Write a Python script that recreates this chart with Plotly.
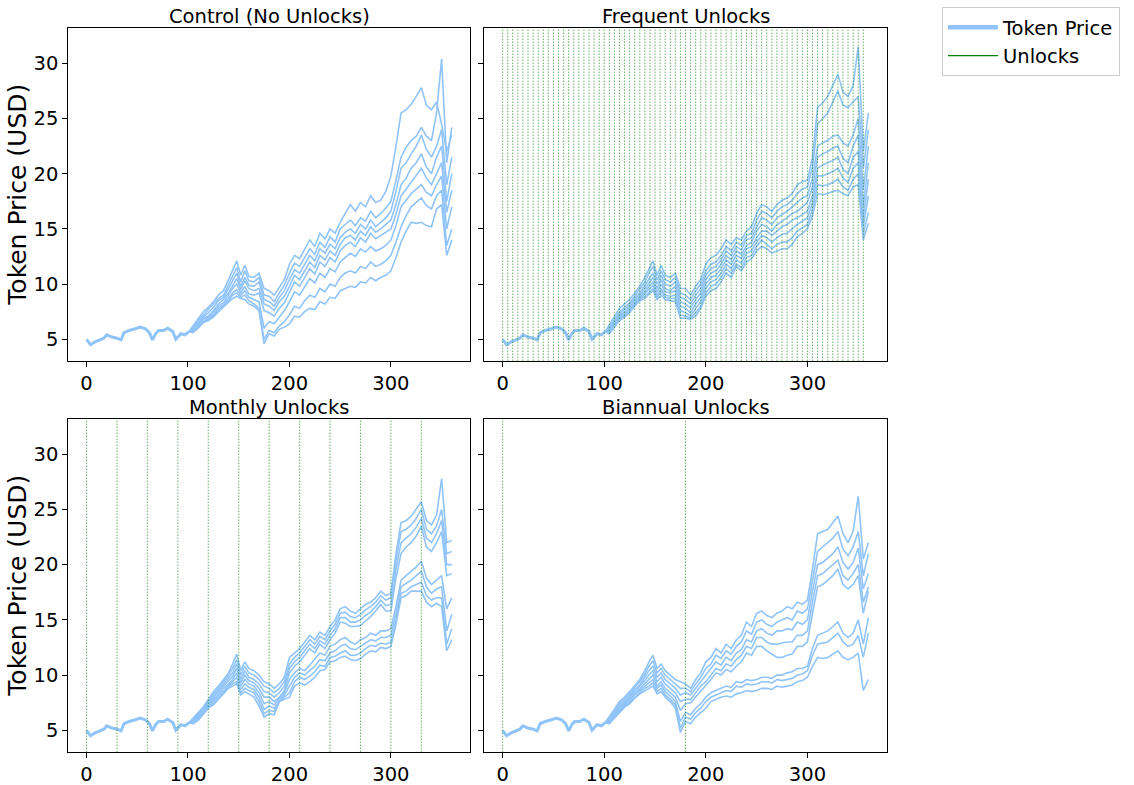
import plotly.graph_objects as go
from plotly.subplots import make_subplots

# opening stretch is the same in every panel (days 0-101)
common_days = [0, 4, 8, 12, 17, 20, 25, 30, 34, 37, 42, 48, 53, 58, 62, 65, 68, 71, 76, 80, 85, 88, 93, 97, 101]
common_price = [5.0, 4.5, 4.75, 4.9, 5.1, 5.4, 5.2, 5.1, 4.95, 5.6, 5.8, 5.95, 6.1, 5.95, 5.6,
                4.95, 5.5, 5.8, 5.8, 6.0, 5.7, 5.0, 5.5, 5.4, 5.7]

late_days = [105, 110, 115, 120, 125, 130, 135, 140, 144, 148, 152, 156, 160, 165, 170, 175,
             180, 185, 190, 195, 200, 205, 210, 215, 220, 225, 230, 235, 240, 245, 250, 255,
             260, 265, 270, 275, 280, 285, 290, 295, 300, 305, 310, 315, 320, 325, 330, 335,
             340, 345, 350, 355, 360]

control_paths = [
    [6.2, 6.9, 7.5, 7.9, 8.4, 9.0, 9.4, 10.4, 11.2, 12.1, 10.8, 11.7, 10.7, 10.6, 11.0, 9.6,
     9.4, 9.0, 9.7, 10.4, 11.8, 12.6, 12.3, 13.2, 14.0, 13.4, 14.6, 14.1, 15.0, 14.6, 15.6, 16.4,
     17.2, 16.6, 17.4, 17.0, 18.0, 17.4, 17.6, 18.4, 19.8, 22.5, 25.5, 25.8, 26.3, 27.0, 27.8, 26.2,
     25.8, 26.5, 24.5, 22.0, 23.5],
    [6.0, 6.7, 7.2, 7.7, 8.2, 8.7, 9.0, 10.0, 10.8, 11.5, 10.2, 11.2, 10.3, 10.2, 10.6, 9.0,
     8.9, 8.4, 9.2, 9.9, 11.0, 11.9, 11.6, 12.4, 13.2, 12.7, 13.8, 13.3, 14.3, 13.8, 15.0, 15.4,
     15.8, 15.3, 16.0, 15.7, 16.6, 16.0, 16.4, 16.9, 17.5, 19.4, 21.5, 22.4, 23.0, 23.4, 24.2, 23.4,
     23.0, 25.5, 30.4, 21.0, 24.2],
    [5.9, 6.5, 7.0, 7.4, 7.9, 8.5, 8.8, 9.6, 10.3, 11.0, 9.8, 10.6, 9.9, 9.8, 10.2, 8.6,
     8.4, 8.0, 8.8, 9.4, 10.4, 11.3, 11.0, 11.8, 12.6, 12.1, 13.2, 12.8, 13.6, 13.2, 14.2, 14.7,
     15.0, 14.6, 15.4, 15.0, 15.8, 15.2, 15.6, 16.0, 16.6, 18.4, 20.5, 21.0, 21.8, 22.5, 23.5, 22.2,
     21.5, 22.5, 24.0, 19.0, 21.5],
    [5.8, 6.3, 6.9, 7.1, 7.6, 8.2, 8.6, 9.2, 9.9, 10.5, 9.5, 10.3, 9.6, 9.4, 9.6, 8.2,
     8.0, 7.6, 8.4, 8.9, 9.8, 10.8, 10.4, 11.2, 12.0, 11.5, 12.6, 12.2, 13.0, 12.6, 13.6, 14.2,
     14.4, 14.0, 14.8, 14.4, 15.2, 14.7, 15.0, 15.4, 15.8, 17.2, 19.0, 19.6, 20.5, 21.0, 21.8, 20.6,
     20.0, 21.5, 22.5, 17.5, 20.0],
    [5.8, 6.3, 6.8, 7.0, 7.4, 8.0, 8.3, 9.0, 9.6, 10.0, 9.2, 9.8, 9.1, 9.0, 9.2, 7.6,
     7.4, 7.1, 7.8, 8.3, 9.2, 10.2, 9.8, 10.6, 11.4, 10.9, 12.0, 11.6, 12.4, 12.0, 13.0, 13.5,
     13.8, 13.4, 14.2, 13.8, 14.6, 14.1, 14.4, 14.7, 15.0, 16.3, 18.0, 18.6, 19.2, 19.8, 20.5, 19.6,
     19.0, 20.0, 21.0, 16.5, 18.5],
    [5.7, 6.2, 6.6, 6.9, 7.2, 7.8, 8.1, 8.7, 9.2, 9.5, 9.0, 9.4, 8.8, 8.6, 8.4, 6.0,
     6.6, 6.4, 7.0, 7.6, 8.4, 9.3, 9.0, 9.8, 10.5, 10.1, 11.0, 10.6, 11.4, 11.1, 12.0, 12.4,
     12.8, 12.5, 13.2, 12.9, 13.4, 13.0, 13.2, 13.5, 14.0, 15.3, 17.0, 17.6, 18.2, 18.6, 19.0, 18.3,
     18.0, 19.0, 19.8, 15.0, 17.0],
    [5.7, 6.1, 6.6, 6.8, 7.1, 7.6, 8.0, 8.5, 9.0, 9.2, 8.8, 9.0, 8.5, 8.2, 7.8, 5.0,
     5.8, 5.6, 6.2, 6.6, 7.2, 8.0, 7.8, 8.5, 9.0, 8.8, 9.6, 9.3, 10.0, 9.8, 10.6, 11.0,
     11.2, 11.0, 11.6, 11.4, 12.0, 11.6, 11.8, 12.1, 12.6, 13.8, 15.2, 16.2, 17.0, 17.4, 17.8, 17.1,
     16.8, 18.0, 18.5, 13.5, 15.0],
    [5.6, 6.0, 6.5, 6.7, 7.0, 7.5, 7.9, 8.3, 8.7, 8.9, 8.7, 8.6, 8.2, 8.0, 7.6, 4.6,
     5.5, 5.3, 5.9, 6.1, 6.4, 7.1, 7.0, 7.5, 7.8, 7.7, 8.4, 8.2, 8.8, 8.7, 9.4, 9.6,
     9.8, 9.7, 10.2, 10.1, 10.6, 10.3, 10.6, 10.8, 11.2, 12.4, 13.8, 14.8, 15.6, 15.5, 15.6, 15.3,
     15.2, 16.8, 17.2, 12.6, 14.0],
]

frequent_paths = [
    [6.3, 7.0, 7.8, 8.2, 8.6, 9.2, 9.8, 10.6, 11.4, 12.1, 10.8, 11.7, 10.8, 10.6, 11.0, 9.6,
     9.6, 9.0, 9.8, 10.4, 11.8, 12.4, 12.6, 13.2, 14.0, 13.6, 14.2, 14.0, 14.8, 15.2, 16.4, 17.2,
     17.0, 16.6, 17.2, 17.6, 17.8, 18.2, 19.0, 19.3, 19.4, 21.5, 26.0, 26.4, 27.0, 28.0, 29.0, 27.4,
     27.0, 28.0, 31.5, 22.0, 25.5],
    [6.1, 6.8, 7.5, 7.9, 8.3, 8.9, 9.5, 10.2, 11.0, 11.6, 10.4, 11.2, 10.4, 10.2, 10.6, 9.2,
     9.0, 8.6, 9.4, 10.0, 11.2, 11.8, 12.0, 12.6, 13.4, 13.0, 13.8, 13.5, 14.4, 14.6, 15.8, 16.6,
     16.4, 16.0, 16.6, 17.0, 17.2, 17.6, 18.2, 18.6, 18.8, 20.6, 24.5, 25.0, 25.5, 26.5, 27.5, 26.2,
     26.0, 26.5, 27.0, 20.5, 24.0],
    [6.0, 6.6, 7.3, 7.7, 8.1, 8.7, 9.2, 9.9, 10.5, 11.0, 10.0, 10.8, 10.0, 9.8, 10.2, 8.8,
     8.6, 8.2, 9.0, 9.6, 10.8, 11.4, 11.6, 12.2, 13.0, 12.6, 13.4, 13.1, 14.0, 14.2, 15.2, 16.0,
     15.8, 15.4, 16.0, 16.3, 16.6, 17.0, 17.4, 17.8, 18.0, 19.6, 22.5, 22.8, 23.0, 23.4, 23.5, 22.8,
     22.5, 23.5, 25.0, 18.5, 22.5],
    [5.9, 6.5, 7.1, 7.5, 7.9, 8.5, 9.0, 9.6, 10.1, 10.6, 9.6, 10.4, 9.6, 9.4, 9.8, 8.4,
     8.2, 7.8, 8.6, 9.2, 10.4, 11.0, 11.2, 11.8, 12.6, 12.2, 13.0, 12.7, 13.5, 13.8, 14.8, 15.4,
     15.2, 14.8, 15.4, 15.7, 16.0, 16.4, 16.6, 17.0, 17.4, 18.8, 21.5, 21.8, 22.0, 22.3, 22.5, 21.4,
     21.0, 22.5, 23.5, 17.0, 21.0],
    [5.8, 6.4, 7.0, 7.3, 7.7, 8.3, 8.8, 9.3, 9.8, 10.2, 9.3, 10.0, 9.3, 9.2, 9.4, 8.0,
     7.8, 7.4, 8.2, 8.8, 10.0, 10.6, 10.8, 11.4, 12.2, 11.8, 12.6, 12.3, 13.2, 13.4, 14.2, 14.8,
     14.8, 14.4, 14.8, 15.2, 15.4, 15.8, 16.0, 16.3, 16.6, 18.0, 20.5, 20.8, 21.0, 21.2, 21.5, 20.4,
     20.0, 21.5, 22.0, 16.0, 19.5],
    [5.7, 6.3, 6.9, 7.2, 7.6, 8.2, 8.7, 9.1, 9.5, 9.9, 9.0, 9.6, 9.0, 8.9, 9.0, 7.6,
     7.4, 7.1, 7.8, 8.4, 9.6, 10.2, 10.4, 11.0, 11.8, 11.4, 12.2, 11.9, 12.8, 13.0, 13.8, 14.4,
     14.2, 13.8, 14.2, 14.5, 14.6, 15.0, 15.4, 15.7, 16.0, 17.4, 19.8, 19.8, 20.0, 20.2, 20.5, 19.6,
     19.2, 20.5, 21.0, 15.2, 18.0],
    [5.6, 6.2, 6.8, 7.1, 7.5, 8.1, 8.6, 8.9, 9.3, 9.6, 8.8, 9.3, 8.8, 8.7, 8.7, 7.2,
     7.1, 6.9, 7.4, 8.0, 9.2, 9.8, 10.0, 10.6, 11.4, 11.0, 11.8, 11.5, 12.4, 12.6, 13.4, 14.0,
     13.6, 13.2, 13.6, 13.8, 13.8, 14.2, 14.8, 15.1, 15.4, 16.8, 19.0, 18.9, 19.0, 19.2, 19.5, 18.8,
     18.5, 19.5, 20.0, 14.5, 16.5],
    [5.5, 6.1, 6.7, 7.0, 7.4, 8.0, 8.5, 8.7, 9.1, 9.4, 8.6, 9.0, 8.6, 8.5, 8.4, 6.9,
     6.9, 6.8, 7.1, 7.8, 8.9, 9.4, 9.6, 10.2, 11.0, 10.6, 11.6, 11.2, 12.0, 12.3, 13.0, 13.4,
     13.2, 12.8, 13.0, 13.2, 13.2, 13.6, 14.3, 14.6, 15.0, 16.2, 18.2, 18.1, 18.2, 18.4, 18.5, 18.2,
     18.0, 18.8, 19.0, 14.0, 15.5],
]

monthly_paths = [
    [6.1, 6.6, 7.1, 7.8, 8.5, 9.0, 9.6, 10.2, 11.0, 11.9, 10.4, 11.2, 10.6, 10.4, 10.0, 9.4,
     9.2, 8.8, 9.2, 9.8, 11.6, 12.0, 12.4, 13.0, 13.6, 13.2, 13.9, 13.6, 14.4, 15.0, 16.0, 16.2,
     15.8, 15.6, 16.0, 16.4, 16.6, 17.0, 17.6, 17.2, 17.4, 21.0, 23.8, 24.0, 24.4, 25.0, 25.7, 24.0,
     23.6, 24.5, 27.8, 22.0, 22.2],
    [6.0, 6.5, 7.0, 7.6, 8.3, 8.8, 9.4, 10.0, 10.6, 11.4, 10.0, 10.8, 10.2, 10.0, 9.6, 9.0,
     8.8, 8.4, 8.8, 9.4, 11.0, 11.6, 12.0, 12.6, 13.2, 12.8, 13.5, 13.2, 14.0, 14.6, 15.6, 15.7,
     15.3, 15.2, 15.5, 15.9, 16.2, 16.6, 17.2, 16.8, 17.0, 20.4, 23.0, 23.2, 23.6, 24.2, 25.0, 23.2,
     22.8, 23.5, 25.0, 21.0, 21.2],
    [5.9, 6.4, 6.9, 7.5, 8.1, 8.6, 9.2, 9.7, 10.2, 11.0, 9.6, 10.4, 9.8, 9.6, 9.2, 8.5,
     8.4, 8.0, 8.4, 9.0, 10.6, 11.2, 11.6, 12.2, 12.8, 12.4, 13.1, 12.8, 13.6, 14.2, 15.2, 15.2,
     14.8, 14.8, 15.0, 15.4, 15.7, 16.2, 16.8, 16.3, 16.4, 19.6, 22.0, 22.4, 22.8, 23.4, 24.2, 22.4,
     22.0, 22.8, 24.0, 20.0, 20.0],
    [5.8, 6.3, 6.8, 7.4, 7.9, 8.5, 9.0, 9.4, 9.9, 10.6, 9.3, 10.0, 9.5, 9.3, 8.8, 8.0,
     8.0, 7.6, 8.0, 8.6, 10.2, 10.8, 11.2, 11.8, 12.4, 12.0, 12.8, 12.4, 13.2, 13.8, 14.8, 14.7,
     14.4, 14.4, 14.5, 14.9, 15.3, 15.8, 16.4, 15.8, 15.8, 18.8, 21.0, 21.6, 22.0, 22.6, 23.5, 21.6,
     21.2, 22.0, 23.0, 19.0, 19.2],
    [5.8, 6.2, 6.7, 7.3, 7.7, 8.3, 8.8, 9.2, 9.6, 10.2, 9.0, 9.6, 9.2, 9.0, 8.4, 7.4,
     7.6, 7.3, 7.8, 8.4, 9.6, 10.2, 10.6, 10.4, 10.9, 11.4, 12.0, 11.8, 12.6, 12.8, 13.2, 13.4,
     13.0, 12.8, 13.2, 13.4, 13.8, 13.6, 14.0, 14.0, 14.2, 16.2, 18.6, 19.0, 19.4, 19.8, 20.3, 18.8,
     18.2, 18.6, 19.0, 16.0, 17.0],
    [5.7, 6.1, 6.6, 7.2, 7.6, 8.1, 8.6, 9.0, 9.4, 9.8, 8.7, 9.2, 8.9, 8.7, 8.0, 6.9,
     7.2, 7.0, 7.6, 8.2, 9.0, 9.8, 10.2, 10.0, 10.4, 10.8, 11.4, 11.3, 12.0, 12.2, 12.6, 12.8,
     12.4, 12.3, 12.6, 12.9, 13.2, 13.1, 13.4, 13.4, 13.6, 15.6, 18.0, 18.3, 18.6, 19.0, 19.4, 18.0,
     17.4, 17.8, 18.0, 14.0, 15.5],
    [5.6, 6.0, 6.5, 7.1, 7.4, 7.9, 8.4, 8.9, 9.2, 9.4, 8.4, 8.8, 8.6, 8.4, 7.6, 6.5,
     6.8, 6.7, 7.6, 8.0, 8.4, 9.4, 9.8, 9.6, 9.9, 10.3, 10.9, 10.8, 11.6, 11.7, 12.0, 12.2,
     11.8, 11.8, 12.0, 12.4, 12.7, 12.6, 12.9, 12.8, 13.0, 15.0, 17.4, 17.6, 18.0, 18.2, 18.4, 17.2,
     16.8, 17.0, 17.0, 12.8, 14.2],
    [5.6, 5.9, 6.4, 7.0, 7.3, 7.8, 8.3, 8.8, 9.0, 9.2, 8.2, 8.5, 8.3, 8.0, 7.2, 6.2,
     6.5, 6.4, 7.6, 7.8, 8.0, 9.0, 9.3, 9.1, 9.4, 9.8, 10.4, 10.5, 11.2, 11.3, 11.6, 11.7,
     11.4, 11.3, 11.5, 11.9, 12.2, 12.1, 12.5, 12.4, 12.6, 14.6, 17.0, 17.2, 17.6, 17.6, 17.6, 16.6,
     16.2, 16.5, 16.2, 12.2, 13.2],
]

biannual_paths = [
    [6.2, 6.9, 7.6, 8.0, 8.5, 9.1, 9.6, 10.4, 11.2, 11.8, 10.6, 11.0, 10.4, 10.0, 9.6, 9.4,
     9.2, 8.8, 9.6, 10.2, 11.2, 11.6, 12.4, 12.0, 12.8, 12.4, 13.2, 13.6, 14.8, 14.4, 15.6, 15.8,
     15.4, 15.2, 15.6, 15.8, 16.2, 16.0, 16.6, 16.4, 16.8, 19.6, 22.8, 23.0, 23.2, 23.8, 24.4, 22.8,
     22.0, 23.0, 26.2, 20.5, 22.0],
    [6.0, 6.7, 7.4, 7.8, 8.3, 8.9, 9.4, 10.1, 10.8, 11.3, 10.2, 10.6, 10.0, 9.6, 9.2, 8.8,
     8.8, 8.5, 9.2, 9.8, 10.6, 11.0, 11.8, 11.5, 12.2, 11.9, 12.6, 13.0, 14.0, 13.7, 14.8, 15.0,
     14.6, 14.4, 14.8, 15.0, 15.2, 15.0, 15.8, 15.6, 16.0, 18.6, 21.2, 21.6, 22.0, 22.4, 23.0, 21.4,
     20.8, 21.6, 23.0, 19.0, 21.0],
    [5.9, 6.6, 7.2, 7.6, 8.1, 8.7, 9.1, 9.8, 10.4, 10.8, 9.8, 10.2, 9.6, 9.2, 8.8, 8.2,
     8.4, 8.2, 8.8, 9.4, 10.0, 10.5, 11.2, 10.9, 11.6, 11.3, 12.0, 12.3, 13.2, 13.0, 14.0, 14.2,
     13.8, 13.6, 14.0, 14.0, 14.2, 14.1, 14.8, 14.6, 15.0, 17.6, 20.0, 20.2, 20.6, 21.0, 21.6, 20.2,
     19.6, 20.2, 21.5, 17.8, 19.2],
    [5.8, 6.5, 7.0, 7.5, 7.9, 8.5, 8.9, 9.5, 10.0, 10.4, 9.4, 9.8, 9.2, 8.8, 8.4, 7.6,
     7.8, 7.8, 8.4, 9.0, 9.4, 10.0, 10.6, 10.4, 11.0, 10.8, 11.4, 11.8, 12.6, 12.4, 13.4, 13.4,
     13.0, 12.8, 12.8, 12.9, 13.0, 13.0, 13.6, 13.6, 14.0, 16.6, 19.0, 19.2, 19.6, 20.0, 20.4, 19.0,
     18.6, 19.2, 20.0, 16.6, 18.0],
    [5.7, 6.4, 6.9, 7.4, 7.8, 8.3, 8.7, 9.2, 9.6, 10.0, 9.0, 9.4, 8.8, 8.4, 8.0, 6.8,
     7.4, 7.5, 8.0, 8.6, 9.0, 9.6, 10.2, 10.0, 10.5, 10.3, 10.8, 11.2, 12.0, 11.8, 12.6, 12.6,
     12.2, 11.9, 11.6, 11.6, 11.8, 11.9, 12.6, 12.6, 13.0, 15.6, 18.0, 18.2, 18.6, 19.0, 19.6, 18.2,
     17.8, 18.2, 19.0, 15.6, 17.6],
    [5.7, 6.3, 6.8, 7.3, 7.6, 8.2, 8.6, 9.0, 9.3, 9.6, 8.8, 9.1, 8.5, 8.1, 7.6, 5.8,
     6.6, 6.4, 7.0, 7.4, 8.0, 8.4, 8.6, 8.8, 9.0, 8.9, 9.4, 9.3, 9.6, 9.5, 9.6, 9.8,
     9.8, 9.7, 10.0, 10.0, 10.2, 10.3, 10.6, 10.6, 10.8, 12.4, 13.6, 13.8, 14.0, 14.4, 14.8, 13.8,
     13.4, 13.8, 15.0, 12.8, 15.2],
    [5.6, 6.2, 6.7, 7.2, 7.5, 8.0, 8.4, 8.8, 9.0, 9.3, 8.5, 8.8, 8.2, 7.8, 7.3, 5.2,
     6.2, 6.0, 6.6, 7.0, 7.6, 8.0, 8.2, 8.4, 8.6, 8.5, 9.0, 8.9, 9.2, 9.1, 9.2, 9.4,
     9.4, 9.3, 9.6, 9.5, 9.6, 9.7, 10.0, 10.1, 10.4, 11.8, 12.8, 12.9, 13.0, 13.4, 13.8, 13.0,
     12.6, 12.8, 13.6, 11.6, 13.8],
    [5.6, 6.1, 6.6, 7.1, 7.4, 7.9, 8.3, 8.6, 8.8, 9.0, 8.3, 8.5, 8.0, 7.6, 7.0, 4.8,
     5.8, 5.6, 6.2, 6.6, 7.0, 7.6, 7.8, 8.0, 8.1, 8.0, 8.3, 8.4, 8.6, 8.5, 8.6, 8.8,
     8.8, 8.7, 9.0, 8.9, 9.0, 9.1, 9.4, 9.5, 9.8, 10.8, 11.6, 11.5, 11.6, 11.9, 12.2, 11.6,
     11.4, 11.6, 12.0, 8.6, 9.6],
]

frequent_unlocks = [0, 5, 10, 15, 20, 25, 30, 35, 40, 45, 50, 55, 60, 65, 70, 75, 80, 85,
                    90, 95, 100, 105, 110, 115, 120, 125, 130, 135, 140, 145, 150, 155, 160,
                    165, 170, 175, 180, 185, 190, 195, 200, 205, 210, 215, 220, 225, 230, 235,
                    240, 245, 250, 255, 260, 265, 270, 275, 280, 285, 290, 295, 300, 305, 310,
                    315, 320, 325, 330, 335, 340, 345, 350, 355]
monthly_unlocks = [0, 30, 60, 90, 120, 150, 180, 210, 240, 270, 300, 330]
biannual_unlocks = [0, 180]

titles = ["Control (No Unlocks)", "Frequent Unlocks", "Monthly Unlocks", "Biannual Unlocks"]

PRICE_COLOR = "#90C4F9"
UNLOCK_COLOR = "rgba(0,128,0,0.75)"
FONT = "DejaVu Sans"

panels = [
    (1, 1, control_paths, []),
    (1, 2, frequent_paths, frequent_unlocks),
    (2, 1, monthly_paths, monthly_unlocks),
    (2, 2, biannual_paths, biannual_unlocks),
]

fig = make_subplots(rows=2, cols=2)

for row, col, paths, unlocks in panels:
    # the shared start is drawn once, a bit thicker, like the overlapping runs in the original
    fig.add_trace(
        go.Scatter(x=common_days, y=common_price, mode="lines",
                   line=dict(color=PRICE_COLOR, width=3), showlegend=False, hoverinfo="skip"),
        row, col,
    )
    for path in paths:
        assert len(path) == len(late_days)
        fig.add_trace(
            go.Scatter(
                x=common_days[-1:] + late_days,
                y=common_price[-1:] + path,
                mode="lines",
                line=dict(color=PRICE_COLOR, width=1.6),
                showlegend=False,
                hoverinfo="skip",
            ),
            row,
            col,
        )
    for day in unlocks:
        fig.add_vline(
            x=day,
            line=dict(color=UNLOCK_COLOR, width=0.8, dash="1.5px,1.5px"),
            row=row,
            col=col,
        )

# legend-only entries
fig.add_trace(go.Scatter(x=[None], y=[None], mode="lines", name="Token Price",
                         line=dict(color=PRICE_COLOR, width=4.5)), 1, 1)
fig.add_trace(go.Scatter(x=[None], y=[None], mode="lines", name="Unlocks",
                         line=dict(color="green", width=1.3)), 1, 1)

x_domains = [[0.0602, 0.4145], [0.4271, 0.7819]]
y_domains = [[0.5401, 0.9639], [0.0420, 0.4659]]

axis_style = dict(
    showline=True, mirror=True, linecolor="black", linewidth=1,
    ticks="outside", ticklen=5, tickcolor="black", showgrid=False, zeroline=False,
    tickfont=dict(family=FONT, size=19.5, color="black"),
)

for i, (row, col, _, _) in enumerate(panels, 1):
    suffix = "" if i == 1 else str(i)
    fig.layout["xaxis" + suffix].update(
        domain=x_domains[col - 1], range=[-18, 378], tickvals=[0, 100, 200, 300], **axis_style
    )
    fig.layout["yaxis" + suffix].update(
        domain=y_domains[row - 1], range=[3.03, 33.17], tickvals=[5, 10, 15, 20, 25, 30],
        showticklabels=(col == 1), **axis_style
    )
    fig.add_annotation(
        text=titles[i - 1], xref="paper", yref="paper",
        x=sum(x_domains[col - 1]) / 2, y=y_domains[row - 1][1],
        xanchor="center", yanchor="bottom", yshift=-2, showarrow=False,
        font=dict(family=FONT, size=19.5, color="black"),
    )

for row in (1, 2):
    fig.add_annotation(
        text="Token Price (USD)", xref="paper", yref="paper",
        x=18 / 1134, y=sum(y_domains[row - 1]) / 2, textangle=-90,
        xanchor="center", yanchor="middle", showarrow=False,
        font=dict(family=FONT, size=25, color="black"),
    )

fig.update_layout(
    width=1134,
    height=785,
    margin=dict(l=0, r=0, t=0, b=0),
    paper_bgcolor="white",
    plot_bgcolor="white",
    font=dict(family=FONT, color="black"),
    legend=dict(
        x=942 / 1134, y=1 - 7 / 785, xanchor="left", yanchor="top",
        bordercolor="#cccccc", borderwidth=1, bgcolor="white", itemwidth=50,
        font=dict(family=FONT, size=19.5, color="black"),
    ),
)

fig.write_html(
    "out.html",
    config={"displayModeBar": False},
    post_script="document.body.style.margin = '0px';",
)
